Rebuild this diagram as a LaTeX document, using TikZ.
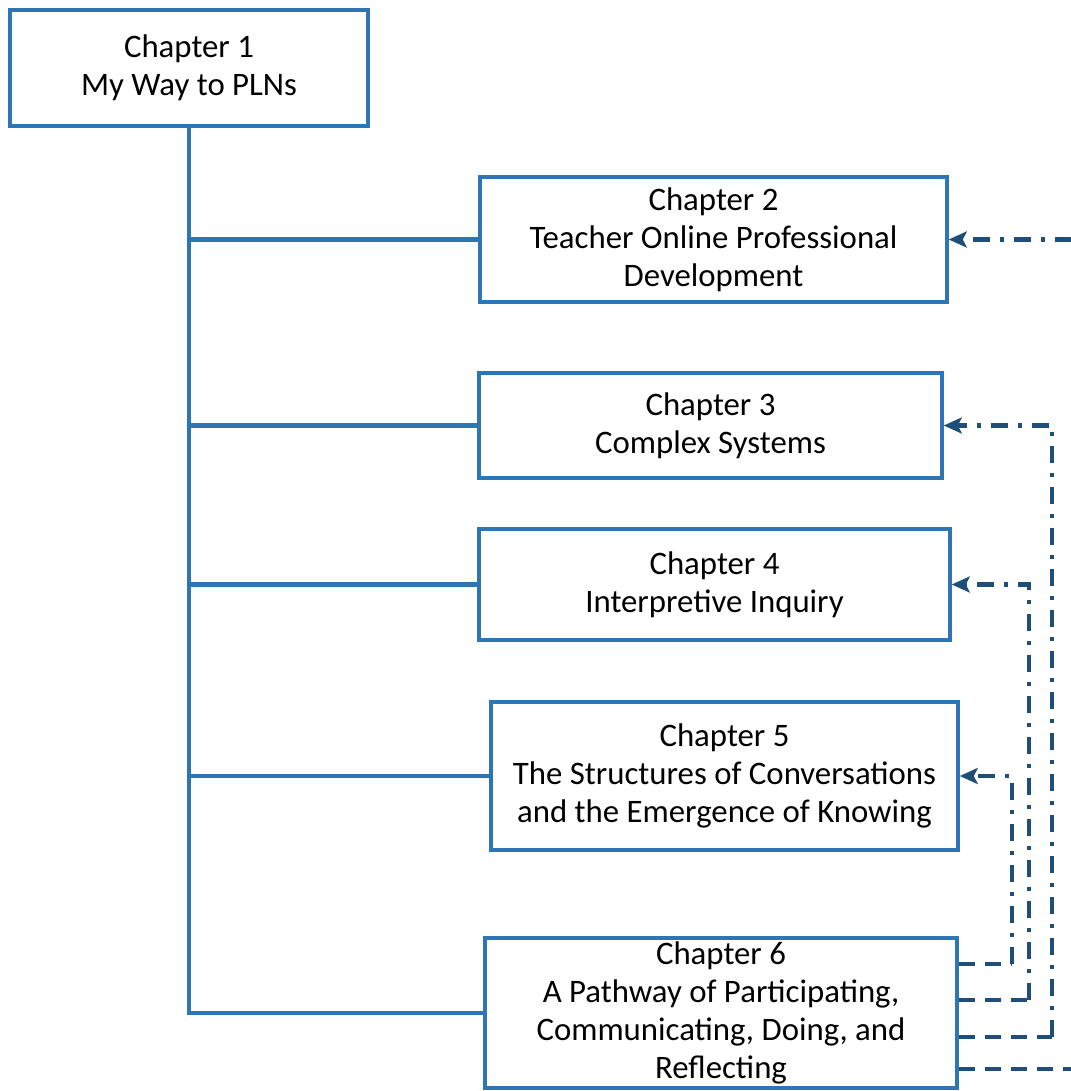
\documentclass[tikz,border=0pt]{standalone}
\usepackage{fontspec}
\setmainfont{Carlito}
\usetikzlibrary{arrows.meta,calc}
\definecolor{boxblue}{HTML}{2E75B6}
\definecolor{darkblue}{HTML}{1F4E79}
\begin{document}
\begin{tikzpicture}[x=1pt,y=-1pt,
  chbox/.style={draw=boxblue,line width=3.5pt,fill=white,align=center,inner sep=0pt,
    font=\fontsize{32.8}{38}\selectfont},
  trunk/.style={draw=boxblue,line width=4.5pt},
  dashdotline/.style={draw=darkblue,line width=4.5pt,dash pattern=on 17pt off 10pt on 4pt off 10pt},
  dashline/.style={draw=darkblue,line width=4.5pt,dash pattern=on 16pt off 10pt},
  tip/.style={-{Stealth[length=18pt,width=16pt,inset=4pt]}}]
\useasboundingbox (0,0) rectangle (1070,1091);
\node[chbox,minimum width=358pt,minimum height=116pt] (b1) at (189,68) {Chapter 1\\My Way to PLNs};
\node[chbox,minimum width=467pt,minimum height=125pt] (b2) at (713.5,239.5) {Chapter 2\\Teacher Online Professional\\Development};
\node[chbox,minimum width=463pt,minimum height=105pt] (b3) at (710.5,425.5) {Chapter 3\\Complex Systems};
\node[chbox,minimum width=471pt,minimum height=111pt] (b4) at (714.5,584.5) {Chapter 4\\Interpretive Inquiry};
\node[chbox,minimum width=467pt,minimum height=148pt] (b5) at (724.5,776) {Chapter 5\\The Structures of Conversations\\and the Emergence of Knowing};
\node[chbox,minimum width=472pt,minimum height=150pt] (b6) at (721,1013) {Chapter 6\\A Pathway of Participating,\\Communicating, Doing, and\\Reflecting};
% trunk
\draw[trunk] (b1.south) -- (b1.south |- b6.west) -- (b6.west);
\draw[trunk] (b1.south |- b2.west) -- (b2.west);
\draw[trunk] (b1.south |- b3.west) -- (b3.west);
\draw[trunk] (b1.south |- b4.west) -- (b4.west);
\draw[trunk] (b1.south |- b5.west) -- (b5.west);
% feedback connectors
\coordinate (t5) at (1012,964);
\coordinate (t4) at (1029,1000);
\coordinate (t3) at (1052,1037);
\coordinate (t2) at (1072,1069);
\draw[dashline] (b6.east |- t5) -- (t5);
\draw[dashline] (b6.east |- t4) -- (t4);
\draw[dashline] (b6.east |- t3) -- (t3);
\draw[dashline] (b6.east |- t2) -- (t2);
\draw[dashdotline,tip] (t5) -- (t5 |- b5.east) -- (b5.east);
\draw[dashdotline,tip] (t4) -- (t4 |- b4.east) -- (b4.east);
\draw[dashdotline,tip] (t3) -- (t3 |- b3.east) -- (b3.east);
\draw[dashdotline,tip] (t2 |- b2.east) -- (b2.east);
\end{tikzpicture}
\end{document}
